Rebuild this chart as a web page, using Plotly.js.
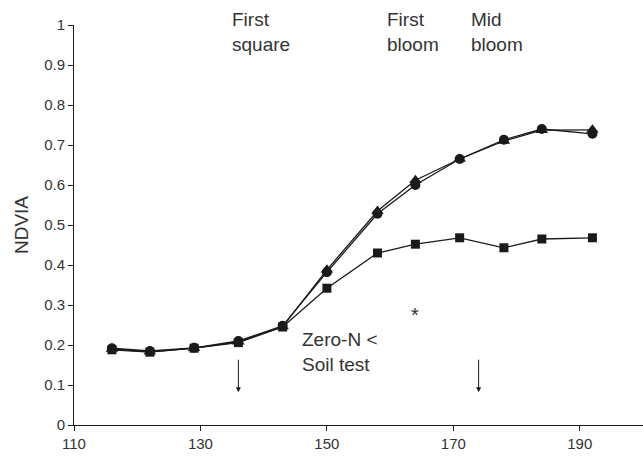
<!DOCTYPE html>
<html>
<head>
<meta charset="utf-8">
<script src="https://cdn.plot.ly/plotly-3.0.1.min.js"></script>
<style>html,body{margin:0;padding:0;background:#fff;}#chart{width:643px;height:457px;}</style>
</head>
<body>
<div id="chart"></div>
<script>
const days = [116, 122, 129, 136, 143, 150, 158, 164, 171, 178, 184, 192];
const zeroN = [0.188, 0.182, 0.192, 0.206, 0.245, 0.342, 0.430, 0.452, 0.468, 0.443, 0.465, 0.468];
const soilTest = [0.192, 0.185, 0.193, 0.210, 0.248, 0.382, 0.528, 0.600, 0.665, 0.713, 0.740, 0.728];
const other = [0.190, 0.183, 0.192, 0.208, 0.246, 0.388, 0.535, 0.612, 0.665, 0.710, 0.737, 0.738];
const xTicks = [110, 130, 150, 170, 190];
const yTicks = [0, 0.1, 0.2, 0.3, 0.4, 0.5, 0.6, 0.7, 0.8, 0.9, 1];
const stageLabels = ["First<br>square", "First<br>bloom", "Mid<br>bloom"];
const stageDays = [134.6, 159.2, 172.5];
const arrowDays = [136, 174];

const ink = '#1a1a1a';
const txt = '#333333';
function series(y, sym, size) {
  return {x: days, y: y, type: 'scatter', mode: 'lines+markers',
    line: {color: ink, width: 1.3},
    marker: {symbol: sym, size: size, color: ink}, showlegend: false};
}
const traces = [
  series(other, 'triangle-up', 11),
  series(soilTest, 'circle', 10),
  series(zeroN, 'square', 9)
];
const annotations = [];
stageLabels.forEach((t, i) => annotations.push({x: stageDays[i], y: 1.045, xref: 'x', yref: 'paper', text: t,
  showarrow: false, xanchor: 'left', yanchor: 'top', align: 'left', font: {size: 19, color: txt}}));
arrowDays.forEach(d => annotations.push({x: d, y: 0.082, xref: 'x', yref: 'y', text: '',
  showarrow: true, ax: 0, ay: -34, arrowhead: 2, arrowsize: 1, arrowwidth: 1, arrowcolor: ink}));
annotations.push({x: 145.8, y: 0.245, xref: 'x', yref: 'y', text: 'Zero-N <<br>Soil test', showarrow: false,
  xanchor: 'left', yanchor: 'top', align: 'left', font: {size: 19, color: txt}});
annotations.push({x: 164, y: 0.275, xref: 'x', yref: 'y', text: '*', showarrow: false,
  font: {size: 20, color: txt}});

const layout = {
  width: 643, height: 457,
  margin: {l: 74, r: 0, t: 25, b: 32},
  paper_bgcolor: '#fff', plot_bgcolor: '#fff',
  font: {family: 'Liberation Sans, Arial, sans-serif', color: txt, size: 15},
  xaxis: {range: [110, 200], tickvals: xTicks, ticks: 'outside', ticklen: 5, tickcolor: ink,
    showline: true, linecolor: ink, linewidth: 1, showgrid: false, zeroline: false,
    tickfont: {size: 15, color: txt}},
  yaxis: {range: [0, 1], tickvals: yTicks, ticktext: yTicks.map(v => String(v)), ticks: 'outside', ticklen: 5, tickcolor: ink,
    showline: true, linecolor: ink, linewidth: 1, showgrid: false, zeroline: false,
    tickfont: {size: 15, color: txt},
    title: {text: 'NDVIA', font: {size: 19, color: txt}, standoff: 10}},
  annotations: annotations
};
Plotly.newPlot('chart', traces, layout, {displayModeBar: false, staticPlot: true});
</script>
</body>
</html>
